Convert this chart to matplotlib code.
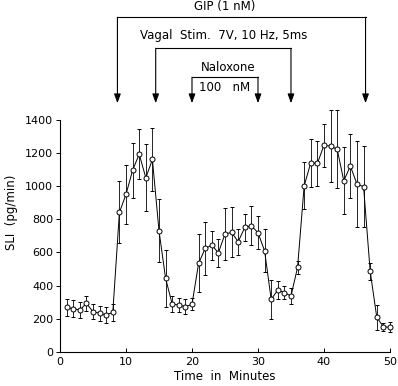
import matplotlib
matplotlib.use("Agg")
import matplotlib.pyplot as plt

# SLI release, mean +/- sem, one sample per minute
time_min = list(range(1, 51))
sli = [268, 260, 252, 292, 242, 232, 222, 238, 842, 951,
       1097, 1194, 1051, 1162, 731, 443, 288, 282, 272, 286,
       534, 624, 644, 598, 711, 721, 665, 751, 761, 719,
       610, 316, 373, 357, 336, 510, 1003, 1142, 1138, 1248,
       1242, 1224, 1033, 1122, 1013, 997, 487, 208, 151, 147]
sem = [50, 50, 50, 45, 47, 47, 46, 52, 187, 177,
       167, 151, 203, 191, 191, 171, 48, 40, 45, 37,
       175, 161, 87, 85, 155, 151, 78, 83, 117, 101,
       131, 117, 55, 40, 46, 40, 143, 145, 137, 129,
       217, 237, 203, 195, 262, 245, 52, 76, 25, 30]

# treatment brackets: (label, start, stop, bracket level, label level, label x)
gip = ("GIP (1 nM)", 8.7, 46.3, 2021, 2088, 24.9)
vagal = ("Vagal  Stim.  7V, 10 Hz, 5ms", 14.5, 35.0, 1834, 1913, 24.8)
naloxone = ("Naloxone", 20.0, 30.0, 1659, 1720, 25.5)
arrow_tip = 1502

fig = plt.figure(figsize=(3.98, 3.86), dpi=100)
ax = fig.add_axes([0.1508, 0.0889, 0.829, 0.600])

ax.errorbar(time_min, sli, yerr=sem, color="black", lw=0.7, elinewidth=0.6,
            capsize=1.3, capthick=0.6, marker="o", ms=3.6, mfc="white",
            mec="black", mew=0.7, clip_on=False, zorder=3)

ax.set_xlim(0, 50)
ax.set_ylim(0, 1400)
ax.set_xticks(range(0, 51, 10))
ax.set_yticks(range(0, 1401, 200))
for s in ("top", "right"):
    ax.spines[s].set_visible(False)
for s in ("left", "bottom"):
    ax.spines[s].set_linewidth(0.8)
ax.tick_params(axis="x", direction="in", length=3, width=0.7, labelsize=8, pad=4)
ax.tick_params(axis="y", direction="out", length=3, width=0.7, labelsize=8, pad=2)

ax.set_xlabel("Time  in  Minutes", fontsize=8.5, labelpad=2)
fig.text(0.03, 0.45, "SLI  (pg/min)", rotation=90, fontsize=8.5,
         ha="center", va="center")

for label, t0, t1, level, text_y, text_x in (gip, vagal, naloxone):
    ax.plot([t0, t1], [level, level], color="black", lw=0.8, clip_on=False)
    for t in (t0, t1):
        ax.annotate("", xy=(t, arrow_tip), xytext=(t, level),
                    arrowprops=dict(arrowstyle="-|>,head_length=0.55,head_width=0.2",
                                    color="black", lw=0.8, shrinkA=0, shrinkB=0),
                    annotation_clip=False)
    ax.text(text_x, text_y, label, ha="center", va="center", fontsize=8.5,
            clip_on=False)

ax.text(21.0, 1599, "100   nM", ha="left", va="center", fontsize=8.5, clip_on=False)

fig.savefig("out.png", dpi=100)
